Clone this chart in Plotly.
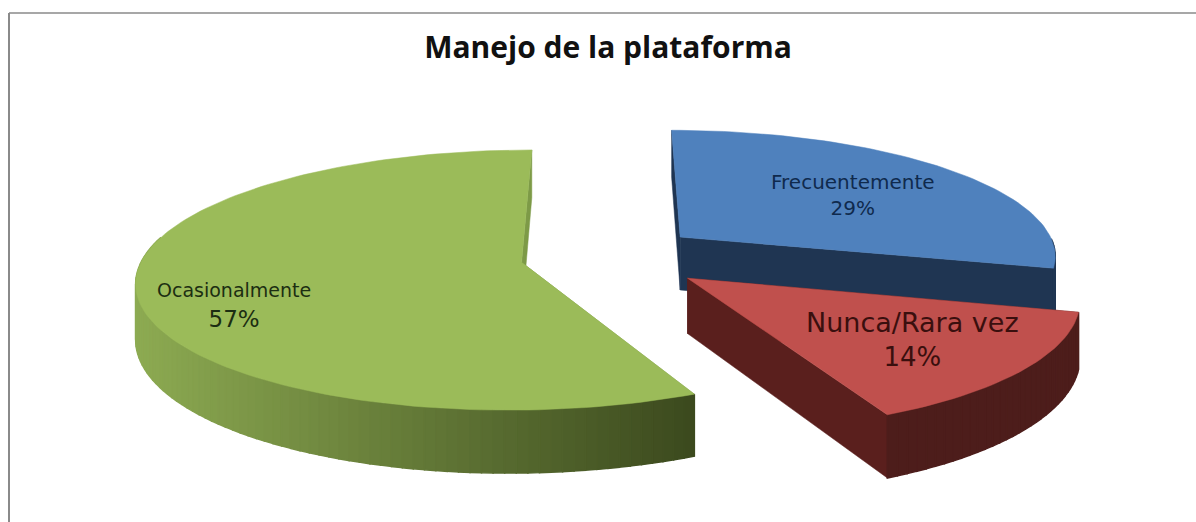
import math
import plotly.graph_objects as go

title = "Manejo de la plataforma"
categories = ["Frecuentemente", "Nunca/Rara vez", "Ocasionalmente"]
values = [29, 14, 57]
explosions = [0.25, 0.27, 0.23]
top_colors = ["#4f81bd", "#c0504d", "#9bbb59"]
cut_colors = ["#1f3552", "#5a1f1d", "#7d9a47"]
rim_light = ["#1f3552", "#4d1d1b", "#8dab52"]
rim_dark = ["#1f3552", "#4d1d1b", "#3c4a1e"]
label_sizes = [20, 27, 19]
pct_sizes = [20, 26, 23]
label_colors = ["#0f2a4d", "#3a0f0e", "#1c2e12"]
label_x = [853, 912, 234]
label_y = [195, 339, 305]

START = 0.0
RX, RY, K, CX, CY, DEPTH = 378, 126, 0.135, 607, 256, 54


def project(x, v, z=0.0):
    w = 1 / (1 - K * v)
    return CX + RX * x * w, CY + RY * v * w + z * w


def polar(deg, r=1.0):
    a = math.radians(deg)
    return r * math.sin(a), -r * math.cos(a)


def lerp_color(c1, c2, t):
    p = [int(c1[i:i + 2], 16) for i in (1, 3, 5)]
    q = [int(c2[i:i + 2], 16) for i in (1, 3, 5)]
    return "#%02x%02x%02x" % tuple(round(a + (b - a) * t) for a, b in zip(p, q))


fig = go.Figure()


def poly(pts, color, lw=0.5):
    fig.add_trace(go.Scatter(
        x=[p[0] for p in pts] + [pts[0][0]],
        y=[p[1] for p in pts] + [pts[0][1]],
        mode="lines", fill="toself", fillcolor=color,
        line=dict(color=color, width=lw),
        hoverinfo="skip", showlegend=False,
    ))


total = sum(values)
angle = START
for i, val in enumerate(values):
    sweep = val / total * 360
    a0, a1 = angle, angle + sweep
    angle = a1
    ox, ov = polar((a0 + a1) / 2, explosions[i])
    n = max(12, int(sweep / 1.5))
    arc = []
    for j in range(n + 1):
        dx, dv = polar(a0 + sweep * j / n)
        arc.append((ox + dx, ov + dv))
    for end in (arc[0], arc[-1]):
        poly([project(ox, ov), project(*end), project(*end, DEPTH), project(ox, ov, DEPTH)], cut_colors[i])
    segs = sorted(range(n), key=lambda s: arc[s][1] + arc[s + 1][1])
    xs = [project(*p)[0] for p in arc]
    xmin, xmax = min(xs), max(xs)
    for s in segs:
        if arc[s][1] + arc[s + 1][1] < -0.3:
            continue
        t = (project(*arc[s])[0] - xmin) / (xmax - xmin)
        poly([project(*arc[s]), project(*arc[s + 1]),
              project(*arc[s + 1], DEPTH), project(*arc[s], DEPTH)],
             lerp_color(rim_light[i], rim_dark[i], t), lw=1.5)
    poly([project(ox, ov)] + [project(*p) for p in arc], top_colors[i])

annotations = [dict(
    x=label_x[i], y=label_y[i], xref="x", yref="y", showarrow=False, align="center",
    text=f"<span style='font-size:{label_sizes[i]}px'>{categories[i]}</span><br>{round(values[i] / total * 100)}%",
    font=dict(family="DejaVu Sans", size=pct_sizes[i], color=label_colors[i]),
) for i in range(len(values))]

fig.update_layout(
    width=1196, height=522, margin=dict(l=0, r=0, t=0, b=0),
    paper_bgcolor="white", plot_bgcolor="white", showlegend=False,
    xaxis=dict(range=[0, 1196], visible=False, fixedrange=True),
    yaxis=dict(range=[522, 0], visible=False, fixedrange=True),
    title=dict(text=f"<b>{title}</b>", x=608 / 1196, xanchor="center", y=1 - 47 / 522, yanchor="middle",
               font=dict(family="Open Sans", size=30, color="#111111")),
    annotations=annotations,
    shapes=[dict(type="line", xref="paper", yref="paper", x0=9 / 1196, x1=1, y0=1 - 13 / 522, y1=1 - 13 / 522,
                 line=dict(color="#8a8a8a", width=1.5)),
            dict(type="line", xref="paper", yref="paper", x0=9 / 1196, x1=9 / 1196, y0=0, y1=1 - 13 / 522,
                 line=dict(color="#8a8a8a", width=2))],
)
fig.write_html("out.html", config=dict(displayModeBar=False),
               post_script="document.body.style.margin='0';")
